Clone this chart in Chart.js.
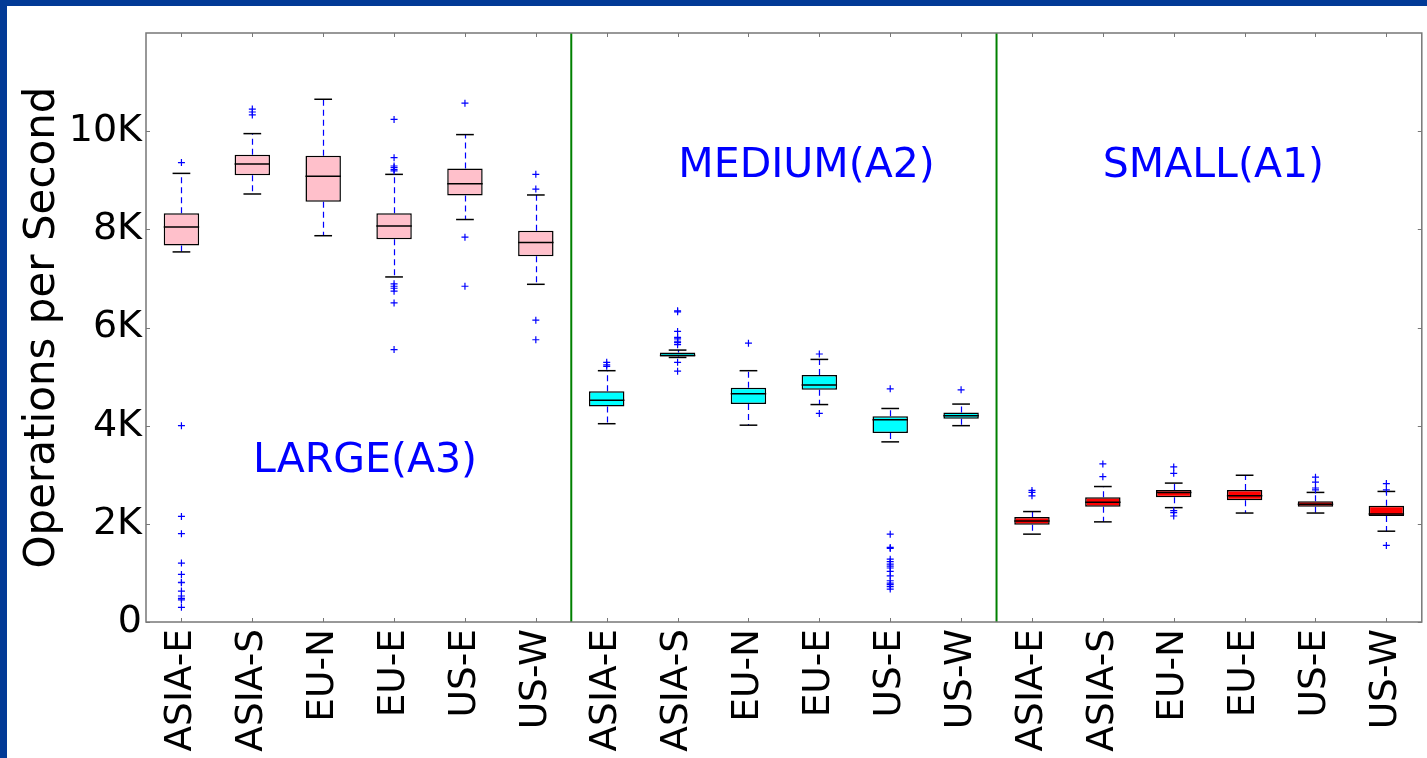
<!DOCTYPE html>
<html lang="en">
<head>
  <meta charset="UTF-8" />
  <title>Operations per Second by Region</title>
  <script src="https://cdn.jsdelivr.net/npm/chart.js"></script>
  <style>
    html, body { margin: 0; padding: 0; background: #023a96; overflow: hidden; }
    #wrap { position: absolute; left: 7px; top: 6px; width: 1420px; height: 752px; background: #fff; }
  </style>
</head>
<body>
<div id="wrap"><canvas id="chart" width="1420" height="752"></canvas></div>
<script>
  // categories
  const regions = ['ASIA-E', 'ASIA-S', 'EU-N', 'EU-E', 'US-E', 'US-W'];
  const tickLabels = [...regions, ...regions, ...regions];
  const groupNames = ['LARGE(A3)', 'MEDIUM(A2)', 'SMALL(A1)'];
  const groupColors = ['#ffc0cb', '#00ffff', '#ff0000'];

  // box plot values (ops/s), LARGE then MEDIUM then SMALL
  const whiskerLow  = [7540, 8720, 7870, 7030, 8200, 6880, 4040, 5390, 4010, 4430, 3670, 4000, 1790, 2040, 2330, 2220, 2220, 1850];
  const q1          = [7670, 9100, 8560, 7800, 8690, 7450, 4390, 5410, 4440, 4730, 3850, 4140, 1980, 2350, 2540, 2480, 2350, 2160];
  const median      = [8050, 9330, 9080, 8070, 8930, 7730, 4520, 5430, 4650, 4830, 4120, 4200, 2060, 2440, 2640, 2570, 2400, 2200];
  const q3          = [8330, 9520, 9500, 8330, 9240, 7970, 4700, 5490, 4770, 5030, 4190, 4270, 2140, 2540, 2690, 2690, 2460, 2370];
  const whiskerHigh = [9140, 9950, 10650, 9120, 9930, 8700, 5120, 5540, 5120, 5350, 4350, 4440, 2250, 2760, 2830, 2990, 2640, 2660];
  const outliers = [
    [9360, 4000, 2150, 1800, 1200, 970, 810, 800, 630, 530, 480, 450, 300],
    [10450, 10390, 10330],
    [],
    [10240, 9460, 9290, 9260, 9220, 9190, 6890, 6840, 6800, 6740, 6500, 5550],
    [10570, 7840, 6840],
    [9120, 8820, 6150, 5750],
    [5290, 5240, 5210],
    [6340, 6320, 5920, 5800, 5770, 5720, 5690, 5650, 5290, 5110],
    [5680],
    [5460, 4250],
    [4750, 1790, 1520, 1500, 1280, 1230, 1180, 1140, 1100, 1030, 940, 840, 790, 760, 720, 670],
    [4730],
    [2680, 2640, 2570],
    [3220, 2960],
    [3160, 3030, 2270, 2230, 2160],
    [],
    [2950, 2850, 2730, 2690],
    [2820, 2690, 1560]
  ];
  const yTicks = [0, 2000, 4000, 6000, 8000, 10000];
  // where the group names sit, in data units
  const groupLabelPos = [[3.59, 3270], [9.82, 9290], [15.56, 9290]];

  const font = 'DejaVu Sans';

  const boxData = q1.map((v, i) => ({ x: i + 1, y: [v, q3[i]] }));
  const boxColors = q1.map((_, i) => groupColors[Math.floor(i / 6)]);
  const outlierData = [];
  outliers.forEach((list, i) => list.forEach(v => outlierData.push({ x: i + 1, y: v })));

  const boxPlot = {
    id: 'boxPlot',
    beforeDatasetsDraw(chart) {
      const { ctx, scales: { x, y } } = chart;
      ctx.save();
      // whiskers
      ctx.strokeStyle = '#0000ff';
      ctx.lineWidth = 1.2;
      ctx.setLineDash([6, 4]);
      q1.forEach((_, i) => {
        const px = Math.round(x.getPixelForValue(i + 1)) + 0.5;
        ctx.beginPath();
        ctx.moveTo(px, y.getPixelForValue(q3[i]));
        ctx.lineTo(px, y.getPixelForValue(whiskerHigh[i]));
        ctx.moveTo(px, y.getPixelForValue(q1[i]));
        ctx.lineTo(px, y.getPixelForValue(whiskerLow[i]));
        ctx.stroke();
      });
      ctx.setLineDash([]);
      // caps
      ctx.strokeStyle = '#000';
      ctx.lineWidth = 1.5;
      q1.forEach((_, i) => {
        const a = x.getPixelForValue(i + 1 - 0.125), b = x.getPixelForValue(i + 1 + 0.125);
        [whiskerHigh[i], whiskerLow[i]].forEach(v => {
          const py = y.getPixelForValue(v);
          ctx.beginPath();
          ctx.moveTo(a, py);
          ctx.lineTo(b, py);
          ctx.stroke();
        });
      });
      ctx.restore();
    },
    afterDatasetsDraw(chart) {
      const { ctx, chartArea: ca, scales: { x, y } } = chart;
      ctx.save();
      // medians
      ctx.strokeStyle = '#000';
      ctx.lineWidth = 1.5;
      median.forEach((m, i) => {
        const py = y.getPixelForValue(m);
        ctx.beginPath();
        ctx.moveTo(x.getPixelForValue(i + 1 - 0.25), py);
        ctx.lineTo(x.getPixelForValue(i + 1 + 0.25), py);
        ctx.stroke();
      });
      // group separators
      ctx.strokeStyle = '#008000';
      ctx.lineWidth = 2;
      [6.5, 12.5].forEach(v => {
        const px = x.getPixelForValue(v);
        ctx.beginPath();
        ctx.moveTo(px, ca.top);
        ctx.lineTo(px, ca.bottom);
        ctx.stroke();
      });
      // group names
      ctx.fillStyle = '#0000ff';
      ctx.font = '41px "' + font + '"';
      ctx.textAlign = 'center';
      ctx.textBaseline = 'middle';
      groupNames.forEach((g, i) => {
        ctx.fillText(g, x.getPixelForValue(groupLabelPos[i][0]), y.getPixelForValue(groupLabelPos[i][1]));
      });
      // frame and inward ticks
      ctx.strokeStyle = '#777';
      ctx.lineWidth = 1.5;
      ctx.strokeRect(ca.left, ca.top, ca.right - ca.left, ca.bottom - ca.top);
      ctx.lineWidth = 1;
      ctx.beginPath();
      yTicks.forEach(v => {
        const py = Math.round(y.getPixelForValue(v)) + 0.5;
        ctx.moveTo(ca.left, py); ctx.lineTo(ca.left + 4, py);
        ctx.moveTo(ca.right, py); ctx.lineTo(ca.right - 4, py);
      });
      tickLabels.forEach((_, i) => {
        const px = Math.round(x.getPixelForValue(i + 1)) + 0.5;
        ctx.moveTo(px, ca.bottom); ctx.lineTo(px, ca.bottom - 4);
        ctx.moveTo(px, ca.top); ctx.lineTo(px, ca.top + 4);
      });
      ctx.stroke();
      ctx.restore();
    }
  };

  new Chart(document.getElementById('chart'), {
    data: {
      datasets: [
        {
          type: 'bar',
          data: boxData,
          backgroundColor: boxColors,
          borderColor: '#000',
          borderWidth: 1.5,
          borderSkipped: false,
          categoryPercentage: 0.5,
          barPercentage: 1
        },
        {
          type: 'scatter',
          data: outlierData,
          pointStyle: 'cross',
          pointRadius: 3.5,
          borderColor: '#0000ff',
          borderWidth: 1.2
        }
      ]
    },
    plugins: [boxPlot],
    options: {
      responsive: false,
      animation: false,
      layout: { padding: { top: 27, right: 5, left: 0, bottom: 0 } },
      plugins: { legend: { display: false }, tooltip: { enabled: false } },
      scales: {
        x: {
          type: 'linear',
          offset: false,
          min: 0.5,
          max: 18.5,
          grid: { display: false, offset: false },
          border: { display: false },
          afterBuildTicks: s => { s.ticks = tickLabels.map((_, i) => ({ value: i + 1 })); },
          afterFit: s => { s.height = 136; s.paddingLeft = 0; s.paddingRight = 0; },
          ticks: {
            minRotation: 90,
            maxRotation: 90,
            padding: -1,
            color: '#000',
            font: { family: font, size: 37.5 },
            callback: v => tickLabels[v - 1]
          }
        },
        y: {
          min: 0,
          max: 12000,
          grid: { display: false },
          border: { display: false },
          afterBuildTicks: s => { s.ticks = yTicks.map(v => ({ value: v })); },
          afterFit: s => { s.width = 139; s.paddingTop = 0; s.paddingBottom = 0; },
          ticks: {
            padding: -4,
            color: '#000',
            font: { family: font, size: 38 },
            callback: v => v === 0 ? '0' : (v / 1000) + 'K'
          },
          title: {
            display: true,
            text: 'Operations per Second',
            color: '#000',
            font: { family: font, size: 42 },
            padding: { top: 11, bottom: 0 }
          }
        }
      }
    }
  });
</script>
</body>
</html>
